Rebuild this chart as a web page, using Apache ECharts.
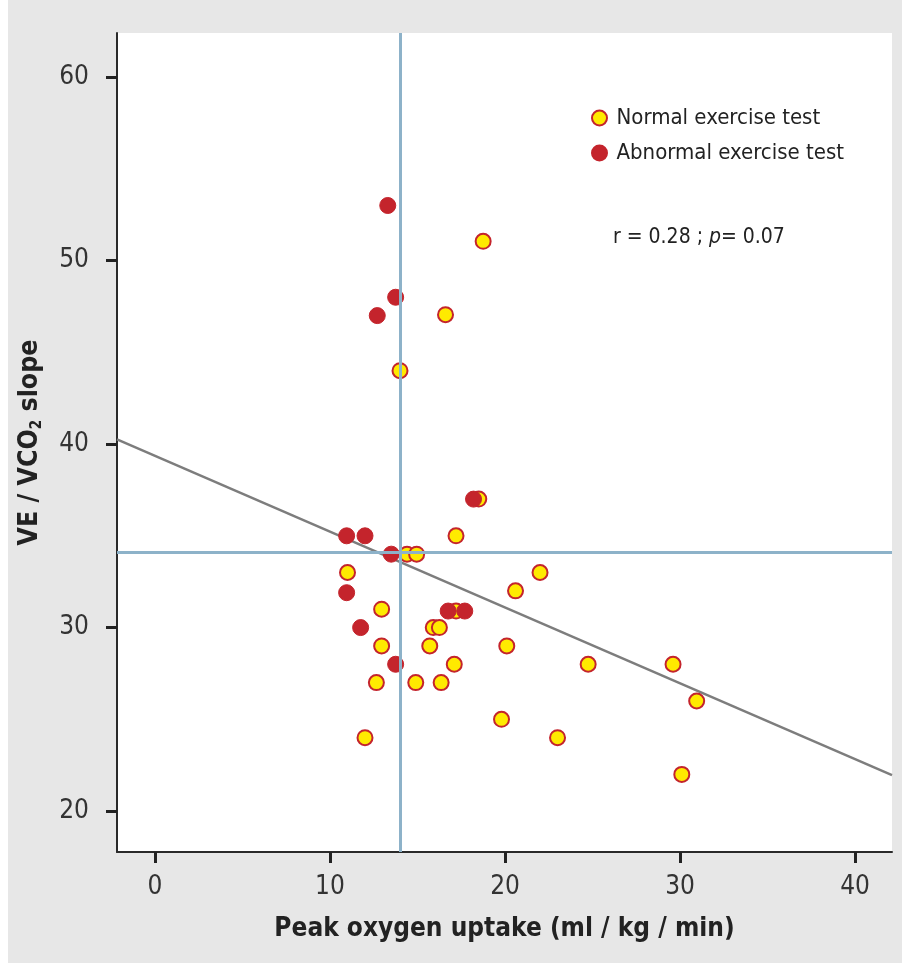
<!DOCTYPE html>
<html>
<head>
<meta charset="utf-8">
<script src="https://cdn.jsdelivr.net/npm/echarts@6/dist/echarts.min.js"></script>
<style>
html,body{margin:0;padding:0;background:#fff;}
#c{width:902px;height:963px;}
</style>
</head>
<body>
<div id="c"></div>
<script>
// ---- data ----
const xTicks = [0, 10, 20, 30, 40];
const yTicks = [20, 30, 40, 50, 60];
const normalPoints = [
  [18.5, 37.0], [17.2, 35.0], [14.4, 34.0], [14.95, 34.0], [11.0, 33.0],
  [22.0, 33.0], [20.6, 32.0], [12.95, 31.0], [17.2, 30.9], [15.9, 30.0],
  [16.25, 30.0], [12.95, 29.0], [15.7, 29.0], [20.1, 29.0], [17.1, 28.0],
  [12.65, 27.0], [14.9, 27.0], [16.35, 27.0], [19.8, 25.0], [12.0, 24.0],
  [23.0, 24.0], [24.75, 28.0], [29.6, 28.0], [30.95, 26.0], [30.1, 22.0],
  [18.75, 51.05], [16.6, 47.05], [14.0, 44.0]
];
const abnormalPoints = [
  [13.3, 53.0], [13.75, 48.0], [12.7, 47.0], [18.2, 37.0], [10.95, 35.0],
  [12.0, 35.0], [13.5, 34.0], [10.95, 31.9], [16.75, 30.9], [17.7, 30.9],
  [11.75, 30.0], [13.75, 28.0]
];
const regressionLine = [[-2.17, 40.26], [42.11, 21.96]];
const cutoffX = [14.0];
const cutoffY = [34.1];
const seriesNames = ['Normal exercise test', 'Abnormal exercise test'];
const axisNames = { x: 'Peak oxygen uptake (ml / kg / min)', yMain: 'VE / VCO', ySub: '2', yTail: ' slope' };
const statText = { r: 'r = 0.28 ; ', p: 'p', rest: '= 0.07' };

// ---- styles ----
const F = "'Liberation Sans Narrow','Arial Narrow','DejaVu Sans Condensed','Liberation Sans',sans-serif";
const RED = '#c4242c';
const YEL = '#ffea00';
const BLUE = '#8db2c9';

const chart = echarts.init(document.getElementById('c'), null, {renderer: 'canvas'});
chart.setOption({
  backgroundColor: '#e7e7e7',
  animation: false,
  graphic: [
    {type: 'rect', left: 0, top: 0, shape: {width: 8, height: 963}, style: {fill: '#ffffff'}},
    {type: 'text', left: 613, top: 227, z: 10,
     style: {
       text: '{a|' + statText.r + '}{i|' + statText.p + '}{a|' + statText.rest + '}',
       rich: {
         a: {fontFamily: F, fontSize: 21, fill: '#222'},
         i: {fontFamily: F, fontSize: 21, fontStyle: 'italic', fill: '#222'}
       }
     }}
  ],
  grid: {left: 117, right: 10, top: 33, bottom: 111, show: true, backgroundColor: '#ffffff', borderWidth: 0},
  legend: {
    orient: 'vertical', left: 586, top: 102, itemWidth: 24, itemHeight: 15, itemGap: 13,
    icon: 'circle',
    textStyle: {fontFamily: F, fontSize: 22, color: '#222'},
    data: seriesNames
  },
  xAxis: {
    type: 'value', min: -2.17, max: 42.11,
    name: axisNames.x, nameLocation: 'middle', nameGap: 64,
    nameTextStyle: {fontFamily: F, fontSize: 26, fontWeight: 'bold', color: '#222'},
    axisLine: {show: true, onZero: false, lineStyle: {color: '#2a2a2a', width: 2}},
    axisTick: {show: true, length: 11, customValues: xTicks, lineStyle: {color: '#222', width: 3}},
    axisLabel: {customValues: xTicks, margin: 22, fontFamily: F, fontSize: 26, color: '#333'},
    splitLine: {show: false}
  },
  yAxis: {
    type: 'value', min: 17.77, max: 62.4,
    name: '{a|' + axisNames.yMain + '}{s|' + axisNames.ySub + '}{a|' + axisNames.yTail + '}',
    nameLocation: 'middle', nameGap: 72,
    nameTextStyle: {
      rich: {
        a: {fontFamily: F, fontSize: 26.5, fontWeight: 'bold', color: '#222', lineHeight: 30},
        s: {fontFamily: F, fontSize: 15, fontWeight: 'bold', color: '#222', verticalAlign: 'bottom', lineHeight: 16}
      }
    },
    axisLine: {show: true, onZero: false, lineStyle: {color: '#2a2a2a', width: 2}},
    axisTick: {show: true, length: 11, customValues: yTicks, lineStyle: {color: '#222', width: 3}},
    axisLabel: {customValues: yTicks, margin: 28, fontFamily: F, fontSize: 26, color: '#333'},
    splitLine: {show: false}
  },
  series: [
    {
      type: 'line', data: regressionLine, showSymbol: false, symbol: 'none', silent: true, z: 1,
      lineStyle: {color: '#7d7d7d', width: 2.5},
      markLine: {
        silent: true, symbol: 'none', label: {show: false},
        lineStyle: {color: BLUE, width: 3, type: 'solid'},
        data: [{xAxis: cutoffX[0]}, {yAxis: cutoffY[0]}]
      }
    },
    {
      name: seriesNames[0], type: 'scatter', data: normalPoints, symbolSize: 15, z: 3,
      itemStyle: {color: YEL, borderColor: RED, borderWidth: 2, opacity: 1}
    },
    {
      name: seriesNames[1], type: 'scatter', data: abnormalPoints, symbolSize: 16, z: 4,
      itemStyle: {color: RED, borderColor: RED, borderWidth: 1, opacity: 1}
    }
  ]
});
</script>
</body>
</html>
